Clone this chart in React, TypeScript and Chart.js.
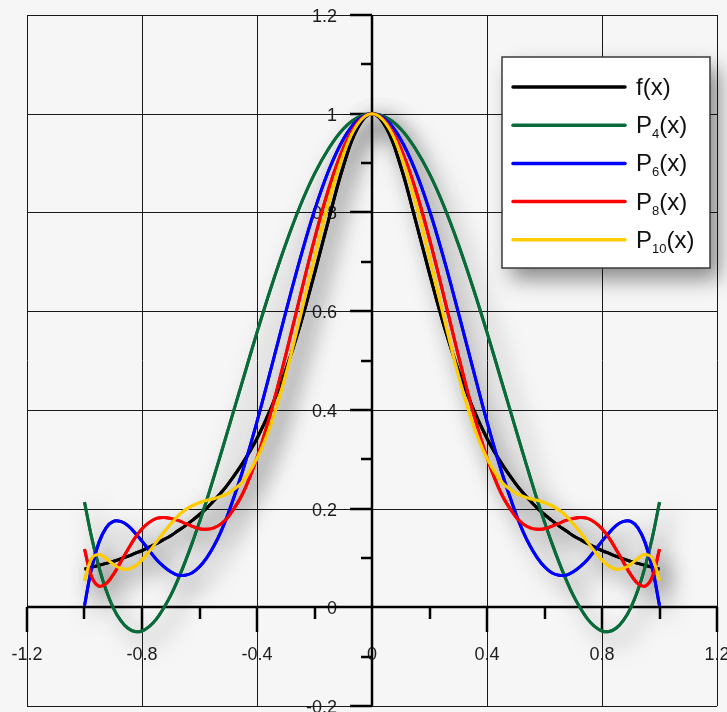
import React, { useEffect, useRef } from "react";
import { Chart, registerables } from "chart.js";

Chart.register(...registerables);

// ---- data ----
const xValues = [
  -1, -0.975, -0.95, -0.925, -0.9, -0.875, -0.85, -0.825, -0.8, -0.775, -0.75, -0.725, -0.7, -0.675, -0.65,
  -0.625, -0.6, -0.575, -0.55, -0.525, -0.5, -0.45, -0.4, -0.35, -0.3, -0.25, -0.2, -0.15, -0.1, -0.05,
  0,
  0.05, 0.1, 0.15, 0.2, 0.25, 0.3, 0.35, 0.4, 0.45, 0.5, 0.525, 0.55, 0.575, 0.6, 0.625,
  0.65, 0.675, 0.7, 0.725, 0.75, 0.775, 0.8, 0.825, 0.85, 0.875, 0.9, 0.925, 0.95, 0.975, 1,
];

const fValues = [
  0.077, 0.081, 0.085, 0.089, 0.093, 0.098, 0.103, 0.109, 0.115, 0.122, 0.129, 0.137, 0.145, 0.155, 0.165,
  0.176, 0.188, 0.201, 0.216, 0.232, 0.25, 0.292, 0.342, 0.405, 0.481, 0.571, 0.676, 0.787, 0.893, 0.971,
  1,
  0.971, 0.893, 0.787, 0.676, 0.571, 0.481, 0.405, 0.342, 0.292, 0.25, 0.232, 0.216, 0.201, 0.188, 0.176,
  0.165, 0.155, 0.145, 0.137, 0.129, 0.122, 0.115, 0.109, 0.103, 0.098, 0.093, 0.089, 0.085, 0.081, 0.077,
];

const p4Values = [
  0.213, 0.141, 0.082, 0.035, -0.001, -0.026, -0.042, -0.049, -0.048, -0.039, -0.024, -0.002, 0.024, 0.056, 0.092,
  0.131, 0.173, 0.217, 0.264, 0.312, 0.361, 0.459, 0.557, 0.65, 0.736, 0.813, 0.878, 0.93, 0.969, 0.992,
  1,
  0.992, 0.969, 0.93, 0.878, 0.813, 0.736, 0.65, 0.557, 0.459, 0.361, 0.312, 0.264, 0.217, 0.173, 0.131,
  0.092, 0.056, 0.024, -0.002, -0.024, -0.039, -0.048, -0.049, -0.042, -0.026, -0.001, 0.035, 0.082, 0.141, 0.213,
];

const p6Values = [
  0.003, 0.08, 0.131, 0.161, 0.174, 0.174, 0.166, 0.151, 0.134, 0.115, 0.097, 0.083, 0.072, 0.065, 0.065,
  0.07, 0.082, 0.1, 0.124, 0.154, 0.19, 0.276, 0.376, 0.486, 0.598, 0.706, 0.804, 0.886, 0.948, 0.987,
  1,
  0.987, 0.948, 0.886, 0.804, 0.706, 0.598, 0.486, 0.376, 0.276, 0.19, 0.154, 0.124, 0.1, 0.082, 0.07,
  0.065, 0.065, 0.072, 0.083, 0.097, 0.115, 0.134, 0.151, 0.166, 0.174, 0.174, 0.161, 0.131, 0.08, 0.003,
];

const p8Values = [
  0.118, 0.062, 0.043, 0.048, 0.066, 0.091, 0.116, 0.14, 0.159, 0.172, 0.18, 0.182, 0.18, 0.176, 0.17,
  0.164, 0.159, 0.158, 0.161, 0.169, 0.183, 0.23, 0.303, 0.399, 0.511, 0.63, 0.746, 0.849, 0.93, 0.982,
  1,
  0.982, 0.93, 0.849, 0.746, 0.63, 0.511, 0.399, 0.303, 0.23, 0.183, 0.169, 0.161, 0.158, 0.159, 0.164,
  0.17, 0.176, 0.18, 0.182, 0.18, 0.172, 0.159, 0.14, 0.116, 0.091, 0.066, 0.048, 0.043, 0.062, 0.118,
];

const p10Values = [
  0.054, 0.099, 0.107, 0.099, 0.087, 0.079, 0.077, 0.083, 0.096, 0.113, 0.132, 0.151, 0.169, 0.185, 0.197,
  0.206, 0.212, 0.217, 0.22, 0.225, 0.231, 0.255, 0.302, 0.374, 0.472, 0.587, 0.708, 0.823, 0.917, 0.979,
  1,
  0.979, 0.917, 0.823, 0.708, 0.587, 0.472, 0.374, 0.302, 0.255, 0.231, 0.225, 0.22, 0.217, 0.212, 0.206,
  0.197, 0.185, 0.169, 0.151, 0.132, 0.113, 0.096, 0.083, 0.077, 0.079, 0.087, 0.099, 0.107, 0.099, 0.054,
];

const seriesLabels = ["f(x)", "P4(x)", "P6(x)", "P8(x)", "P10(x)"];
const legendMain = ["f", "P", "P", "P", "P"];
const legendSub = ["", "4", "6", "8", "10"];
const seriesColors = ["#000000", "#0a6b3a", "#0000ff", "#ff0000", "#ffcc00"];

const xMajorTicks = [-1.2, -0.8, -0.4, 0, 0.4, 0.8, 1.2];
const xTickLabels = ["-1.2", "-0.8", "-0.4", "0", "0.4", "0.8", "1.2"];
const xMinorTicks = [-1.0, -0.6, -0.2, 0.2, 0.6, 1.0];
const yMajorTicks = [-0.2, 0, 0.2, 0.4, 0.6, 0.8, 1, 1.2];
const yTickLabels = ["-0.2", "0", "0.2", "0.4", "0.6", "0.8", "1", "1.2"];
const yMinorTicks = [-0.1, 0.1, 0.3, 0.5, 0.7, 0.9, 1.1];

const FONT = '"Liberation Sans", Arial, Helvetica, sans-serif';

const backgroundPlugin = {
  id: "bg",
  beforeDraw(chart: any) {
    const { ctx, width, height } = chart;
    ctx.save();
    ctx.fillStyle = "#f6f6f6";
    ctx.fillRect(0, 0, width, height);
    ctx.restore();
  },
};

const axesPlugin = {
  id: "axesGrid",
  beforeDatasetsDraw(chart: any) {
    const { ctx, chartArea: a, scales } = chart;
    const xs = scales.x;
    const ys = scales.y;
    const x0 = Math.round(xs.getPixelForValue(0));
    const y0 = Math.round(ys.getPixelForValue(0));
    ctx.save();

    // tick labels (under the grid and curves)
    ctx.fillStyle = "#1e1e1e";
    ctx.font = `18px ${FONT}`;
    ctx.textAlign = "center";
    ctx.textBaseline = "alphabetic";
    xMajorTicks.forEach((v, i) => {
      ctx.fillText(xTickLabels[i], xs.getPixelForValue(v), y0 + 53);
    });
    ctx.textAlign = "right";
    ctx.textBaseline = "middle";
    yMajorTicks.forEach((v, i) => {
      ctx.fillText(yTickLabels[i], x0 - 35, ys.getPixelForValue(v) + 2);
    });

    // grid
    ctx.strokeStyle = "#1a1a1a";
    ctx.lineWidth = 1;
    ctx.beginPath();
    xMajorTicks.forEach((v) => {
      const px = Math.round(xs.getPixelForValue(v)) + 0.5;
      ctx.moveTo(px, a.top);
      ctx.lineTo(px, a.bottom);
    });
    yMajorTicks.forEach((v) => {
      const py = Math.round(ys.getPixelForValue(v)) + 0.5;
      ctx.moveTo(a.left, py);
      ctx.lineTo(a.right, py);
    });
    ctx.stroke();

    // axes
    ctx.strokeStyle = "#000";
    ctx.lineWidth = 2.5;
    ctx.beginPath();
    ctx.moveTo(a.left, y0);
    ctx.lineTo(a.right, y0);
    ctx.moveTo(x0, a.top);
    ctx.lineTo(x0, a.bottom);
    // x ticks
    xMajorTicks.forEach((v) => {
      if (v === 0) return;
      const px = Math.round(xs.getPixelForValue(v));
      ctx.moveTo(px, y0);
      ctx.lineTo(px, y0 + 25);
    });
    xMinorTicks.forEach((v) => {
      const px = Math.round(xs.getPixelForValue(v));
      ctx.moveTo(px, y0);
      ctx.lineTo(px, y0 + 12);
    });
    // y ticks
    yMajorTicks.forEach((v) => {
      const py = Math.round(ys.getPixelForValue(v));
      ctx.moveTo(x0 - 22, py);
      ctx.lineTo(x0, py);
    });
    yMinorTicks.forEach((v) => {
      const py = Math.round(ys.getPixelForValue(v));
      ctx.moveTo(x0 - 11, py);
      ctx.lineTo(x0, py);
    });
    ctx.stroke();
    ctx.restore();

    // soft drop shadows of the curves
    ctx.save();
    ctx.shadowColor = "rgba(0,0,0,0.55)";
    ctx.shadowBlur = 22;
    ctx.shadowOffsetX = 9;
    ctx.shadowOffsetY = 10;
    const metas = chart.getSortedVisibleDatasetMetas().slice().reverse();
    metas.forEach((m: any) => m.dataset.draw(ctx, a));
    ctx.restore();
  },
};

const legendPlugin = {
  id: "customLegend",
  afterDraw(chart: any) {
    const { ctx, chartArea: a } = chart;
    const bx = a.right - 215;
    const by = a.top + 42;
    const bw = 208;
    const bh = 211;
    ctx.save();
    ctx.shadowColor = "rgba(0,0,0,0.45)";
    ctx.shadowBlur = 20;
    ctx.shadowOffsetX = 9;
    ctx.shadowOffsetY = 11;
    ctx.fillStyle = "#ffffff";
    ctx.fillRect(bx, by, bw, bh);
    ctx.restore();

    ctx.save();
    ctx.strokeStyle = "#3a3a3a";
    ctx.lineWidth = 1.5;
    ctx.strokeRect(bx, by, bw, bh);
    seriesLabels.forEach((_, i) => {
      const cy = by + 30 + i * 38.2;
      ctx.strokeStyle = seriesColors[i];
      ctx.lineWidth = 3.5;
      ctx.lineCap = "round";
      ctx.beginPath();
      ctx.moveTo(bx + 11, cy);
      ctx.lineTo(bx + 123, cy);
      ctx.stroke();
      ctx.fillStyle = "#111";
      ctx.textAlign = "left";
      ctx.textBaseline = "alphabetic";
      let tx = bx + 134;
      const base = cy + 8;
      ctx.font = `24px ${FONT}`;
      ctx.fillText(legendMain[i], tx, base);
      tx += ctx.measureText(legendMain[i]).width;
      if (legendSub[i]) {
        ctx.font = `13px ${FONT}`;
        ctx.fillText(legendSub[i], tx, base + 5);
        tx += ctx.measureText(legendSub[i]).width;
      }
      ctx.font = `24px ${FONT}`;
      ctx.fillText("(x)", tx, base);
    });
    ctx.restore();
  },
};

export default function App() {
  const canvasRef = useRef<HTMLCanvasElement | null>(null);

  useEffect(() => {
    const canvas = canvasRef.current;
    if (!canvas) return;
    const series = [fValues, p4Values, p6Values, p8Values, p10Values];
    const datasets = series.map((vals, i) => ({
      label: seriesLabels[i],
      data: xValues.map((x, k) => ({ x, y: vals[k] })),
      borderColor: seriesColors[i],
      backgroundColor: seriesColors[i],
      borderWidth: 3,
      pointRadius: 0,
      tension: 0.4,
      fill: false,
      order: series.length - 1 - i,
    }));
    const chart = new Chart(canvas, {
      type: "line",
      data: { datasets },
      options: {
        animation: false,
        responsive: false,
        events: [],
        layout: { padding: { left: 27, right: 10, top: 15, bottom: 6 } },
        plugins: { legend: { display: false }, tooltip: { enabled: false } },
        scales: {
          x: { type: "linear", min: -1.2, max: 1.2, display: false },
          y: { type: "linear", min: -0.2, max: 1.2, display: false },
        },
      },
      plugins: [backgroundPlugin, axesPlugin, legendPlugin],
    });
    return () => chart.destroy();
  }, []);

  return (
    <canvas
      ref={canvasRef}
      width={727}
      height={712}
      style={{ position: "absolute", left: 0, top: 0, display: "block" }}
    />
  );
}
